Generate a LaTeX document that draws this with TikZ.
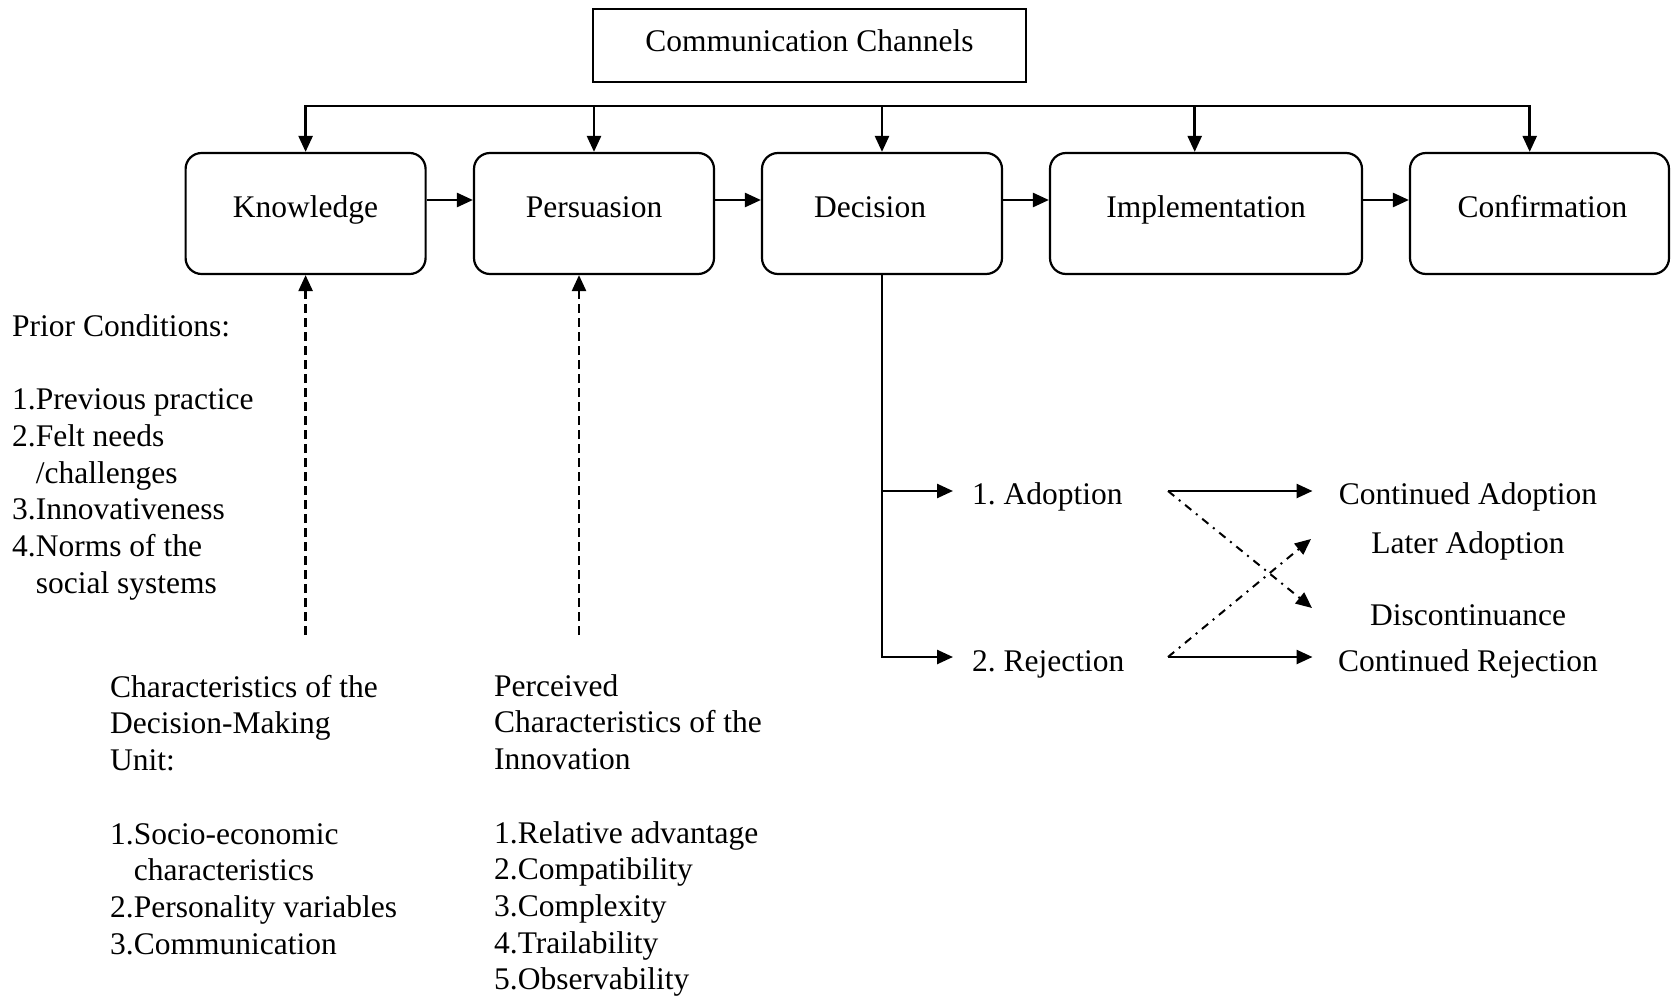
\documentclass[tikz,border=0pt]{standalone}
\usepackage{fontspec}
\setmainfont{Liberation Serif}
\usetikzlibrary{arrows.meta}
\begin{document}
\frenchspacing
\begin{tikzpicture}[x=1pt,y=-1pt,
  every node/.style={font=\fontsize{31.5}{36.7}\selectfont, inner sep=0pt},
  stage/.style={draw, line width=2.2pt, rounded corners=16pt, minimum height=121pt, text height=22pt, text depth=13pt},
  conn/.style={line width=2.5pt, -{Triangle[length=16pt,width=14pt]}},
  dashconn/.style={conn, dash pattern=on 9pt off 5pt},
  dotdash/.style={line width=2pt, dash pattern=on 8pt off 6pt on 2pt off 6pt, -{Triangle[length=16pt,width=14pt]}},
  block/.style={anchor=north west, align=left}
]
\useasboundingbox (0,0) rectangle (1671,1000);

% top box
\node[draw, line width=2.2pt, minimum width=433pt, minimum height=73pt, text height=22pt, text depth=10pt] (comm) at (809.5,45.5) {Communication Channels};

% stages
\node[stage, minimum width=240pt] (know) at (305.6,213.5) {Knowledge};
\node[stage, minimum width=240pt] (pers) at (594,213.5) {Persuasion};
\node[stage, minimum width=240pt] (dec) at (882,213.5) {Decision\hspace*{24pt}};
\node[stage, minimum width=312pt] (impl) at (1206,213.5) {Implementation};
\node[stage, minimum width=259pt] (conf) at (1539.5,213.5) {\hspace*{6pt}Confirmation};

% bus
\coordinate (b1) at (305.6,106);
\coordinate (b2) at (594,106);
\coordinate (b3) at (882,106);
\coordinate (b4) at (1194.7,106);
\coordinate (b5) at (1529.7,106);
\draw[line width=2.5pt, line cap=rect] (b1) -- (b5);
\draw[conn] (b1) -- (know.north);
\draw[conn] (b2) -- (pers.north);
\draw[conn] (b3) -- (dec.north);
\draw[conn] (b4) -- (b4 |- impl.north);
\draw[conn] (b5) -- (b5 |- conf.north);

% stage chain
\draw[conn] ([yshift=13.5pt]know.east) -- ([yshift=13.5pt]pers.west);
\draw[conn] ([yshift=13.5pt]pers.east) -- ([yshift=13.5pt]dec.west);
\draw[conn] ([yshift=13.5pt]dec.east) -- ([yshift=13.5pt]impl.west);
\draw[conn] ([yshift=13.5pt]impl.east) -- ([yshift=13.5pt]conf.west);

% dashed influences
\coordinate (kd) at (305.6,635);
\coordinate (pd) at (579,635);
\draw[dashconn] (kd) -- (kd |- know.south);
\draw[dashconn] (pd) -- (pd |- pers.south);

% decision branches
\coordinate (adin) at (953,491);
\coordinate (rein) at (953,657);
\draw[conn] (dec.south) |- (adin);
\draw[conn] (dec.south) |- (rein);
\node[anchor=base west] (adopt) at (972,504.5) {1. Adoption};
\node[anchor=base west] (reject) at (972,671) {2. Rejection};

% outcomes
\coordinate (ad0) at (1168,491);
\coordinate (ad1) at (1312.5,491);
\coordinate (re0) at (1168,657);
\coordinate (re1) at (1312.5,657);
\coordinate (dd1) at (1312,608);
\coordinate (la1) at (1311,539);
\draw[conn] (ad0) -- (ad1);
\draw[conn] (re0) -- (re1);
\draw[dotdash] (ad0) -- (dd1);
\draw[dotdash] (re0) -- (la1);
\node[anchor=base] (contad) at (1468,504.5) {Continued Adoption};
\node[anchor=base] (later) at (1468,553) {Later Adoption};
\node[anchor=base] (discont) at (1468,625) {Discontinuance};
\node[anchor=base] (contrej) at (1468,671) {Continued Rejection};

% text blocks
\node[block] (prior) at (12,311) {\rule{0pt}{25pt}Prior Conditions:\\[36.7pt]
1.Previous practice\\
2.Felt needs\\
\phantom{1.}/challenges\\
3.Innovativeness\\
4.Norms of the\\
\phantom{1.}social systems};

\node[block] (unit) at (110,672) {\rule{0pt}{25pt}Characteristics of the\\
Decision-Making\\
Unit:\\[36.7pt]
1.Socio-economic\\
\phantom{1.}characteristics\\
2.Personality variables\\
3.Communication};

\node[block] (innov) at (494,671) {\rule{0pt}{25pt}Perceived\\
Characteristics of the\\
Innovation\\[36.7pt]
1.Relative advantage\\
2.Compatibility\\
3.Complexity\\
4.Trailability\\
5.Observability};
\end{tikzpicture}
\end{document}
